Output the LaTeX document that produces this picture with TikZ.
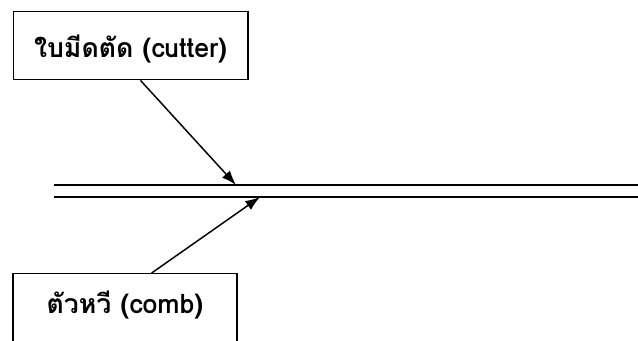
\documentclass[tikz,border=0pt]{standalone}
\usepackage{fontspec}
\newfontfamily\thaifont[Script=Thai]{Loma}
\usetikzlibrary{arrows.meta,positioning}

\begin{document}
\begin{tikzpicture}[x=0.75pt,y=-0.75pt,line width=1pt,
				partbox/.style={draw, rectangle, anchor=north, inner ysep=0pt, font=\thaifont\bfseries\fontsize{20}{24}\selectfont},
				pointer/.style={-{Latex[length=11pt,width=8pt]}, line width=1.1pt}
			]
			\useasboundingbox (0,0) rectangle (638,340);
			\clip (0,0) rectangle (638,340);
			
			% the two blades
			\node[partbox, minimum width=176pt, text height=34pt, text depth=17pt] (cutter) at (130.5,11) {ใบมีดตัด (cutter)};
			\node[partbox, minimum width=168pt, text height=30pt, text depth=60pt] (comb) at (125,273) {ตัวหวี (comb)};
			
			% hair strand
			\coordinate (top_w) at (54,185);
			\coordinate (top_e) at (645,185);
			\coordinate (bot_w) at (54,197);
			\coordinate (bot_e) at (645,197);
			\draw (top_w) -- (top_e);
			\draw (bot_w) -- (bot_e);
			
			\coordinate (hit_top) at (236,185);
			\coordinate (hit_bot) at (260,197);
			
			\draw[pointer] (cutter.-74) -- (hit_top);
			\draw[pointer] ([xshift=20pt]comb.north) -- (hit_bot);
		\end{tikzpicture}
\end{document}
